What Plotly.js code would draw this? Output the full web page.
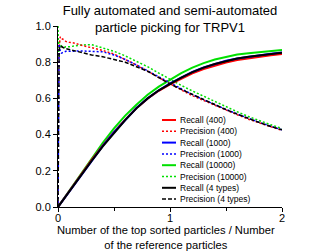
<!DOCTYPE html>
<html>
<head>
<meta charset="utf-8">
<script src="https://cdn.plot.ly/plotly-3.0.1.min.js"></script>
<style>html,body{margin:0;padding:0;background:#fff;}#chart{width:327px;height:251px;}</style>
</head>
<body>
<div id="chart"></div>
<script>
// ---- data ----
var seriesNames = ["Recall (400)", "Precision (400)", "Recall (1000)", "Precision (1000)",
                   "Recall (10000)", "Precision (10000)", "Recall (4 types)", "Precision (4 types)"];
var seriesColors = ["#ff0000", "#ff0000", "#0000ff", "#0000ff", "#00e000", "#00e000", "#000000", "#000000"];

var recallX = [0, 0.1, 0.2, 0.3, 0.4, 0.5, 0.6, 0.7, 0.8, 0.9, 1.0, 1.1, 1.2, 1.3, 1.4, 1.5, 1.6, 1.7, 1.8, 1.9, 2.0];
var recall400   = [0, 0.088, 0.176, 0.260, 0.340, 0.415, 0.483, 0.545, 0.598, 0.642, 0.678, 0.710, 0.738, 0.762, 0.782, 0.798, 0.812, 0.822, 0.830, 0.838, 0.845];
var recall1000  = [0, 0.086, 0.172, 0.256, 0.338, 0.413, 0.483, 0.547, 0.600, 0.645, 0.683, 0.716, 0.746, 0.771, 0.791, 0.808, 0.821, 0.831, 0.840, 0.847, 0.853];
var recall10000 = [0, 0.090, 0.180, 0.270, 0.355, 0.435, 0.505, 0.565, 0.620, 0.665, 0.705, 0.740, 0.770, 0.795, 0.815, 0.830, 0.842, 0.850, 0.857, 0.862, 0.867];
var recall4     = [0, 0.087, 0.173, 0.255, 0.335, 0.410, 0.480, 0.545, 0.600, 0.645, 0.682, 0.715, 0.745, 0.770, 0.790, 0.807, 0.820, 0.830, 0.838, 0.845, 0.852];

var precX = [0, 0.005, 0.01, 0.02, 0.03, 0.05, 0.07, 0.1, 0.15, 0.2, 0.3, 0.4, 0.5, 0.6, 0.7, 0.8, 0.9, 1.0, 1.1, 1.2, 1.3, 1.4, 1.5, 1.6, 1.7, 1.8, 1.9, 2.0];
var prec400   = [0, 0.90, 0.88, 0.94, 0.93, 0.925, 0.915, 0.910, 0.905, 0.895, 0.880, 0.865, 0.845, 0.815, 0.785, 0.750, 0.715, 0.680, 0.647, 0.615, 0.588, 0.562, 0.537, 0.510, 0.485, 0.463, 0.442, 0.423];
var prec1000  = [0, 0.88, 0.90, 0.86, 0.85, 0.855, 0.860, 0.860, 0.862, 0.862, 0.860, 0.857, 0.840, 0.815, 0.785, 0.752, 0.717, 0.683, 0.651, 0.621, 0.593, 0.565, 0.539, 0.514, 0.489, 0.467, 0.446, 0.426];
var prec10000 = [1.0, 0.83, 0.92, 0.88, 0.89, 0.880, 0.885, 0.885, 0.890, 0.895, 0.897, 0.880, 0.860, 0.835, 0.805, 0.775, 0.740, 0.705, 0.672, 0.641, 0.612, 0.582, 0.553, 0.526, 0.500, 0.476, 0.454, 0.434];
var prec4     = [0, 0.84, 0.87, 0.89, 0.885, 0.880, 0.875, 0.870, 0.862, 0.855, 0.840, 0.830, 0.815, 0.800, 0.775, 0.750, 0.715, 0.680, 0.650, 0.621, 0.592, 0.564, 0.538, 0.513, 0.488, 0.466, 0.445, 0.426];

var titleText = "Fully automated and semi-automated<br>particle picking for TRPV1";
var xTitleText = "Number of the top sorted particles / Number<br>of the reference particles";
var xTickVals = [0, 1, 2];
var yTickVals = [0, 0.2, 0.4, 0.6, 0.8, 1.0];
var yTickText = ["0.0", "0.2", "0.4", "0.6", "0.8", "1.0"];

// ---- build traces ----
var ys = [recall400, prec400, recall1000, prec1000, recall10000, prec10000, recall4, prec4];
var colDash = "2px,2px";
var blackDash = "4px,2px";
var traces = ys.map(function (y, i) {
  var isPrec = (i % 2 === 1);
  var dash = isPrec ? (i === 7 ? blackDash : colDash) : "solid";
  return {
    x: isPrec ? precX : recallX,
    y: y,
    type: "scatter",
    mode: "lines",
    name: seriesNames[i],
    showlegend: false,
    line: {color: seriesColors[i], width: isPrec ? 1.5 : 2, dash: dash}
  };
});
// draw order: put black on top of the coloured lines
var order = [4, 5, 0, 1, 2, 3, 6, 7];
var data = order.map(function (k) { return traces[k]; });

// ---- manual compact legend (paper coords) ----
var L = 58, R = 45, T = 26, B = 44, W = 327, H = 251;
var pw = W - L - R, ph = H - T - B;
function px2x(p) { return (p - L) / pw; }
function py2y(p) { return (H - B - p) / ph; }
var rowY = [120, 131.3, 142.6, 153.9, 165.2, 176.5, 187.8, 199.1];
var shapes = [], annotations = [];
seriesNames.forEach(function (nm, i) {
  var isPrec = (i % 2 === 1);
  shapes.push({
    type: "line", xref: "paper", yref: "paper",
    x0: px2x(162), x1: px2x(176), y0: py2y(rowY[i]), y1: py2y(rowY[i]),
    line: {color: seriesColors[i], width: isPrec ? 1.5 : 2, dash: isPrec ? (i === 7 ? blackDash : colDash) : "solid"}
  });
  annotations.push({
    xref: "paper", yref: "paper", x: px2x(177.5), y: py2y(rowY[i]),
    xanchor: "left", yanchor: "middle", showarrow: false,
    text: nm, font: {family: "Liberation Sans, Arial, sans-serif", size: 8.5, color: "#000"}
  });
});
// x-axis title placed as a paper annotation (two lines)
annotations.push({
  xref: "paper", yref: "paper", x: px2x(166), y: py2y(237.5),
  xanchor: "center", yanchor: "middle", showarrow: false,
  text: xTitleText, font: {family: "Liberation Sans, Arial, sans-serif", size: 11.2, color: "#000"}
});

var layout = {
  width: W, height: H,
  margin: {l: L, r: R, t: T, b: B, pad: 0},
  paper_bgcolor: "#fff", plot_bgcolor: "#fff",
  font: {family: "Liberation Sans, Arial, sans-serif", size: 11, color: "#000"},
  showlegend: false,
  title: {
    text: titleText, x: 0.5, xref: "paper", xanchor: "center",
    y: 0.94, yref: "container", yanchor: "top",
    font: {size: 13, color: "#000"}
  },
  xaxis: {
    range: [0, 2], tickvals: xTickVals, ticktext: ["0", "1", "2"],
    showgrid: false, zeroline: false, showline: true, linecolor: "#000", linewidth: 1,
    ticks: "outside", ticklen: 4, tickcolor: "#000", tickwidth: 1,
    ticklabelstandoff: -3,
    minor: {dtick: 0.5, ticks: "outside", ticklen: 3, tickcolor: "#000", showgrid: false},
    tickfont: {size: 11}
  },
  yaxis: {
    range: [0, 1.0], tickvals: yTickVals, ticktext: yTickText,
    showgrid: false, zeroline: false, showline: true, linecolor: "#000", linewidth: 1,
    ticks: "outside", ticklen: 4, tickcolor: "#000", tickwidth: 1,
    tickfont: {size: 11}
  },
  shapes: shapes,
  annotations: annotations
};

Plotly.newPlot("chart", data, layout, {staticPlot: true, displayModeBar: false});
</script>
</body>
</html>
